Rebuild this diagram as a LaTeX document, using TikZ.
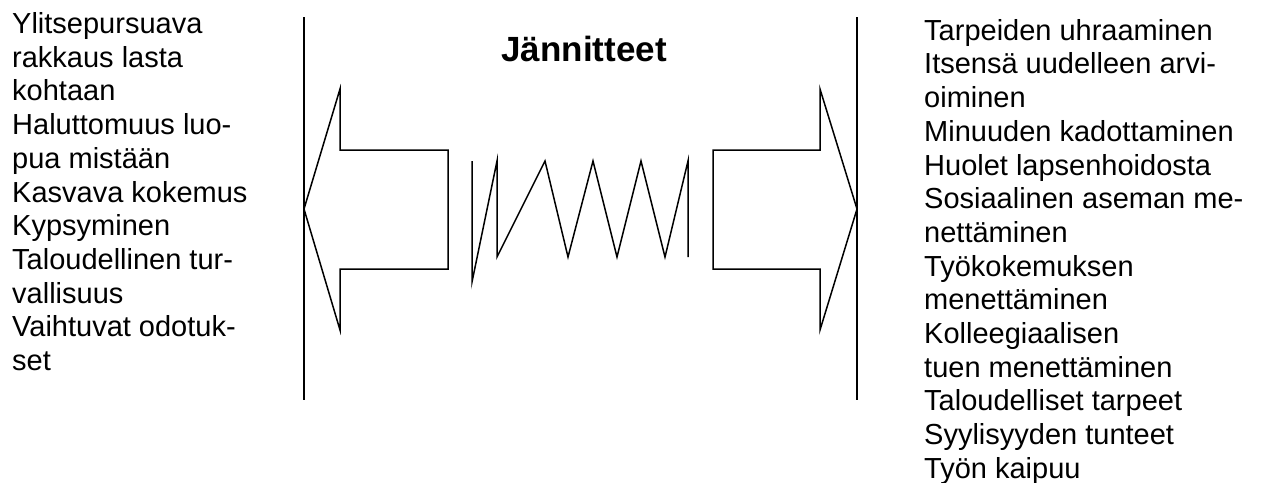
\documentclass[tikz,border=0pt]{standalone}
\usepackage{fontspec}
\setmainfont{Liberation Sans}
\begin{document}
\begin{tikzpicture}[x=1pt,y=-1pt,
  shape line/.style={draw=black,line width=1.5pt,line join=miter},
  listtext/.style={anchor=north west,inner sep=0pt,align=left,
    font=\fontsize{29}{33.7}\selectfont},
  titletext/.style={anchor=base,inner sep=0pt,
    font=\fontsize{35}{40}\selectfont\bfseries}]
\useasboundingbox (0,0) rectangle (1265,482);

% side lists
\node[listtext] (pros) at (12,12.3) {Ylitsepursuava\\rakkaus lasta\\kohtaan\\Haluttomuus luo-\\pua mistään\\Kasvava kokemus\\Kypsyminen\\Taloudellinen tur-\\vallisuus\\Vaihtuvat odotuk-\\set};
\node[listtext] (cons) at (924,19) {Tarpeiden uhraaminen\\Itsensä uudelleen arvi-\\oiminen\\Minuuden kadottaminen\\Huolet lapsenhoidosta\\Sosiaalinen aseman me-\\nettäminen\\Työkokemuksen\\menettäminen\\Kolleegiaalisen\\tuen menettäminen\\Taloudelliset tarpeet\\Syylisyyden tunteet\\Työn kaipuu};

% title
\node[titletext] (title) at (584,61) {Jännitteet};

% dividing walls
\draw[shape line] (304,17) -- (304,400);
\draw[shape line] (857,17) -- (857,400);

% left block arrow
\draw[shape line] (304,209) -- (340,89) -- (340,150) -- (448,150) -- (448,269)
  -- (340,269) -- (340,330) -- cycle;
% right block arrow
\draw[shape line] (857,209) -- (820,89) -- (820,150) -- (713,150) -- (713,269)
  -- (820,269) -- (820,330) -- cycle;

% spring between the arrows
\draw[shape line] (472,161) -- (472,282) -- (497,161) -- (497,257) -- (545,161)
  -- (568,257) -- (593,161) -- (617,257) -- (641,161) -- (665,257)
  -- (688,161) -- (688,257);
\end{tikzpicture}
\end{document}
